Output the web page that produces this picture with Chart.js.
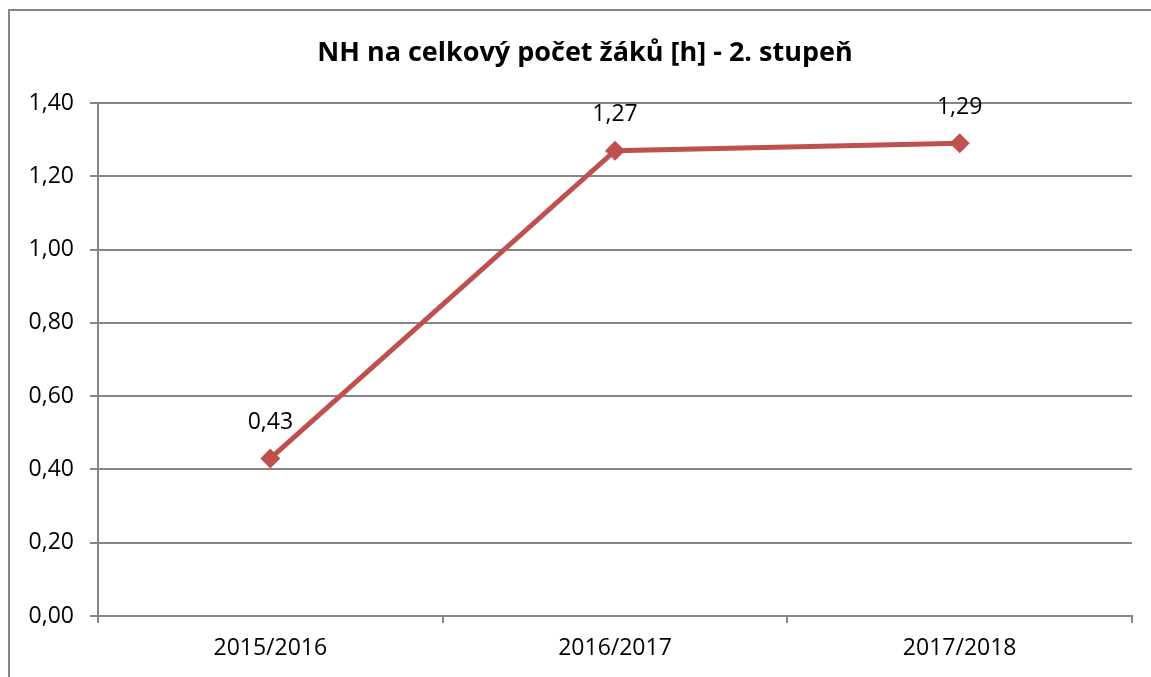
<!DOCTYPE html>
<html>
<head>
<meta charset="utf-8">
<script src="https://cdn.jsdelivr.net/npm/chart.js@4"></script>
<style>
  html, body { margin: 0; padding: 0; background: #fff; }
  #wrap { width: 1151px; height: 677px; position: relative; }
</style>
</head>
<body>
<div id="wrap"><canvas id="c" width="1151" height="677"></canvas></div>
<script>
const categories = ['2015/2016', '2016/2017', '2017/2018'];
const values = [0.43, 1.27, 1.29];
const yTicks = [0, 0.2, 0.4, 0.6, 0.8, 1.0, 1.2, 1.4];
const titleText = 'NH na celkový počet žáků [h] - 2. stupeň';

const FONT = "'Open Sans', 'DejaVu Sans', sans-serif";
const GRID = '#868686';
const LINE = '#C0504D';

const fmt = v => v.toFixed(2).replace('.', ',');

// frame around the chart object and its centred heading
const framePlugin = {
  id: 'frame',
  beforeDraw(chart) {
    const ctx = chart.ctx;
    ctx.save();
    ctx.fillStyle = '#fff';
    ctx.fillRect(0, 0, chart.width, chart.height);
    ctx.strokeStyle = GRID;
    ctx.lineWidth = 2;
    ctx.strokeRect(9, 10, chart.width + 20, chart.height + 20);
    ctx.font = 'bold 27px ' + FONT;
    ctx.fillStyle = '#000';
    ctx.textAlign = 'center';
    ctx.textBaseline = 'middle';
    ctx.fillText(titleText, 585, 53);
    ctx.restore();
  }
};

// value labels above each point
const valueLabels = {
  id: 'valueLabels',
  afterDatasetsDraw(chart) {
    const ctx = chart.ctx;
    const meta = chart.getDatasetMeta(0);
    ctx.save();
    ctx.font = '23px ' + FONT;
    ctx.fillStyle = '#000';
    ctx.textAlign = 'center';
    ctx.textBaseline = 'middle';
    meta.data.forEach((pt, i) => {
      ctx.fillText(fmt(values[i]), pt.x, pt.y - 36);
    });
    ctx.restore();
  }
};

new Chart(document.getElementById('c'), {
  type: 'line',
  data: {
    labels: categories,
    datasets: [{
      data: values,
      borderColor: LINE,
      backgroundColor: LINE,
      borderWidth: 5,
      pointStyle: 'rectRot',
      pointRadius: 10,
      pointHoverRadius: 10,
      pointBorderWidth: 0,
      tension: 0
    }]
  },
  options: {
    responsive: false,
    animation: false,
    events: [],
    layout: { padding: { left: 0, right: 19, top: 103, bottom: 0 } },
    plugins: {
      legend: { display: false },
      tooltip: { enabled: false },
      title: { display: false }
    },
    scales: {
      x: {
        offset: true,
        grid: {
          offset: true,
          drawOnChartArea: false,
          drawTicks: true,
          tickLength: 7,
          color: GRID,
          lineWidth: 2
        },
        border: { display: true, color: GRID, width: 2 },
        ticks: {
          color: '#000',
          font: { family: FONT, size: 23 },
          padding: 12,
          maxRotation: 0
        },
        afterFit(s) { s.height = 61; }
      },
      y: {
        min: 0,
        max: 1.4,
        afterBuildTicks(s) { s.ticks = yTicks.map(v => ({ value: v })); },
        grid: {
          color: GRID,
          lineWidth: 2,
          drawTicks: true,
          tickLength: 8
        },
        border: { display: true, color: GRID, width: 2 },
        ticks: {
          color: '#000',
          font: { family: FONT, size: 23 },
          padding: 16,
          callback: v => fmt(v)
        },
        afterFit(s) { s.width = 98; }
      }
    }
  },
  plugins: [framePlugin, valueLabels]
});
</script>
</body>
</html>
